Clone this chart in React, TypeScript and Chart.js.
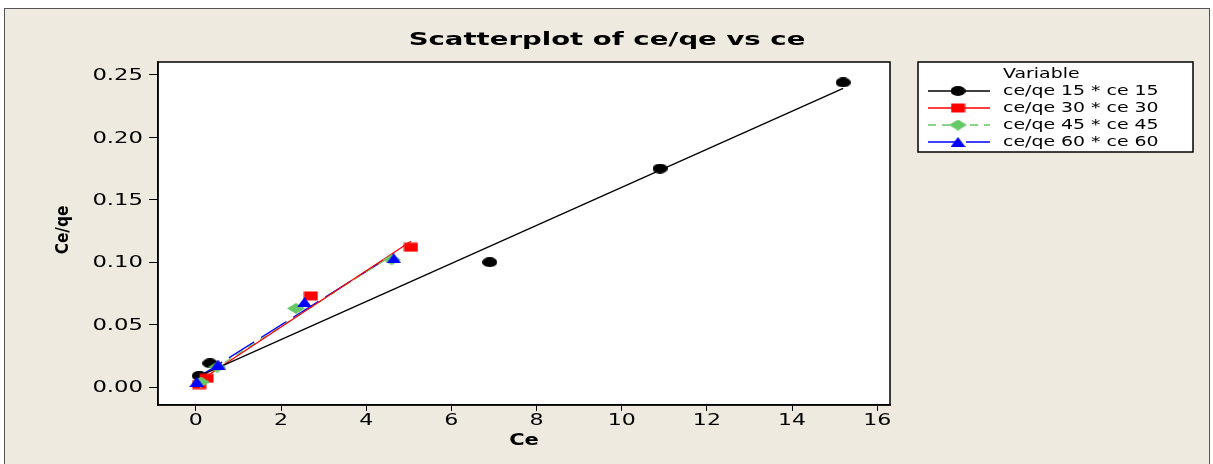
import React, { useEffect, useRef } from 'react';
import { Chart, registerables } from 'chart.js';
Chart.register(...registerables);

const seriesLabels = ['ce/qe 15 * ce 15', 'ce/qe 30 * ce 30', 'ce/qe 45 * ce 45', 'ce/qe 60 * ce 60'];
const ce15 = [0.08, 0.33, 6.9, 10.9, 15.2];
const ceqe15 = [0.009, 0.019, 0.1, 0.175, 0.244];
const ce30 = [0.08, 0.25, 2.7, 5.05];
const ceqe30 = [0.002, 0.007, 0.073, 0.112];
const ce45 = [0.12, 0.5, 2.35, 4.6];
const ceqe45 = [0.004, 0.016, 0.063, 0.102];
const ce60 = [0.02, 0.52, 2.55, 4.65];
const ceqe60 = [0.004, 0.018, 0.068, 0.103];
const xTicks = [0, 2, 4, 6, 8, 10, 12, 14, 16];
const yTicks = [0, 0.05, 0.1, 0.15, 0.2, 0.25];
const yTickLabels = ['0.00', '0.05', '0.10', '0.15', '0.20', '0.25'];

const colors = ['#000000', '#FF0000', '#66C866', '#0000FF'];
const dashes = [[], [], [8, 6], [30, 8]];
const kinds = ['ellipse', 'rect', 'diamond', 'triangle'];

function makeMarker(kind: string, color: string) {
  const c = document.createElement('canvas');
  const w = kind === 'diamond' ? 18 : 15;
  const h = kind === 'diamond' ? 11 : 10;
  c.width = w;
  c.height = h;
  const ctx = c.getContext('2d')!;
  ctx.fillStyle = color;
  ctx.beginPath();
  if (kind === 'ellipse') {
    ctx.ellipse(w / 2, h / 2, w / 2, h / 2, 0, 0, Math.PI * 2);
  } else if (kind === 'rect') {
    ctx.rect(0.5, 0.5, w - 1, h - 1);
  } else if (kind === 'diamond') {
    ctx.moveTo(w / 2, 0);
    ctx.lineTo(w, h / 2);
    ctx.lineTo(w / 2, h);
    ctx.lineTo(0, h / 2);
  } else {
    ctx.moveTo(w / 2, 0);
    ctx.lineTo(w, h);
    ctx.lineTo(0, h);
  }
  ctx.closePath();
  ctx.fill();
  return c;
}

function fitLine(xs: number[], ys: number[]) {
  const n = xs.length;
  const mx = xs.reduce((a, b) => a + b, 0) / n;
  const my = ys.reduce((a, b) => a + b, 0) / n;
  let sxx = 0, sxy = 0;
  for (let i = 0; i < n; i++) {
    sxx += (xs[i] - mx) * (xs[i] - mx);
    sxy += (xs[i] - mx) * (ys[i] - my);
  }
  const b = sxy / sxx;
  const a = my - b * mx;
  const lo = Math.min(...xs), hi = Math.max(...xs);
  return [{ x: lo, y: a + b * lo }, { x: hi, y: a + b * hi }];
}

function stretchText(ctx: CanvasRenderingContext2D, text: string, x: number, y: number, font: string, sx: number, align: string) {
  ctx.save();
  ctx.font = font;
  ctx.fillStyle = '#000';
  ctx.textBaseline = 'middle';
  ctx.textAlign = 'left';
  const w = ctx.measureText(text).width * sx;
  const left = align === 'left' ? x : align === 'center' ? x - w / 2 : x - w;
  ctx.translate(left, y);
  ctx.scale(sx, 1);
  ctx.fillText(text, 0, 0);
  ctx.restore();
}

export default function App() {
  const ref = useRef<HTMLCanvasElement>(null);
  useEffect(() => {
    const xs = [ce15, ce30, ce45, ce60];
    const ys = [ceqe15, ceqe30, ceqe45, ceqe60];
    const markers = kinds.map((k, i) => makeMarker(k, colors[i]));
    const pointSets: any[] = [];
    const lineSets: any[] = [];
    for (let i = 3; i >= 0; i--) {
      pointSets.push({
        label: seriesLabels[i],
        data: xs[i].map((x, j) => ({ x, y: ys[i][j] })),
        pointStyle: markers[i],
        showLine: false,
      });
    }
    for (let i = 0; i < 4; i++) {
      lineSets.push({
        label: seriesLabels[i] + ' fit',
        data: fitLine(xs[i], ys[i]),
        showLine: true,
        pointRadius: 0,
        borderColor: colors[i],
        borderWidth: 1.3,
        borderDash: dashes[i],
      });
    }
    const F = '"DejaVu Sans", Verdana, sans-serif';
    const deco = {
      id: 'deco',
      beforeDraw(chart: any) {
        const ctx = chart.ctx as CanvasRenderingContext2D;
        const a = chart.chartArea;
        ctx.save();
        ctx.fillStyle = '#ffffff';
        ctx.fillRect(0, 0, chart.width, chart.height);
        ctx.fillStyle = '#EEEAE0';
        ctx.fillRect(4, 8, 1206, 470);
        ctx.strokeStyle = '#555';
        ctx.lineWidth = 1;
        ctx.strokeRect(4.5, 8.5, 1205, 470);
        ctx.fillStyle = '#fff';
        ctx.fillRect(a.left, a.top, a.right - a.left, a.bottom - a.top);
        ctx.restore();
      },
      afterDraw(chart: any) {
        const ctx = chart.ctx as CanvasRenderingContext2D;
        const a = chart.chartArea;
        const xs = chart.scales.x;
        const ysc = chart.scales.y;
        ctx.save();
        ctx.strokeStyle = '#000';
        ctx.lineWidth = 1.5;
        ctx.strokeRect(a.left, a.top, a.right - a.left, a.bottom - a.top);
        ctx.restore();
        yTicks.forEach((v, i) => stretchText(ctx, yTickLabels[i], 143, ysc.getPixelForValue(v) + 1, '16px ' + F, 1.42, 'right'));
        xTicks.forEach((v) => stretchText(ctx, String(v), xs.getPixelForValue(v), 421, '16px ' + F, 1.38, 'center'));
        stretchText(ctx, 'Scatterplot of ce/qe vs ce', 607, 41, 'bold 17px ' + F, 1.62, 'center');
        stretchText(ctx, 'Ce', (a.left + a.right) / 2, 441, 'bold 15px ' + F, 1.4, 'center');
        ctx.save();
        ctx.translate(64, 230);
        ctx.rotate(-Math.PI / 2);
        stretchText(ctx, 'Ce/qe', 0, 0, 'bold 17px ' + F, 0.9, 'center');
        ctx.restore();
        // legend
        ctx.save();
        ctx.fillStyle = '#fff';
        ctx.fillRect(918, 62, 275, 90);
        ctx.strokeStyle = '#000';
        ctx.lineWidth = 1.5;
        ctx.strokeRect(918, 62, 275, 90);
        ctx.restore();
        stretchText(ctx, 'Variable', 1003, 74, '13.5px ' + F, 1.4, 'left');
        const rows = [91, 108, 125, 142];
        for (let i = 0; i < 4; i++) {
          ctx.save();
          ctx.strokeStyle = colors[i];
          ctx.lineWidth = 1.3;
          ctx.setLineDash(dashes[i]);
          ctx.beginPath();
          ctx.moveTo(928, rows[i]);
          ctx.lineTo(990, rows[i]);
          ctx.stroke();
          ctx.restore();
          const m = markers[i];
          ctx.drawImage(m, 958 - m.width / 2, rows[i] - m.height / 2);
          stretchText(ctx, seriesLabels[i], 1003, rows[i], '13.5px ' + F, 1.4, 'left');
        }
      },
    };
    const chart = new Chart(ref.current!, {
      type: 'scatter',
      data: { datasets: [...pointSets, ...lineSets] },
      options: {
        animation: false,
        responsive: false,
        events: [],
        layout: { padding: { left: 0, right: 323, top: 62, bottom: 0 } },
        plugins: { legend: { display: false }, title: { display: false }, tooltip: { enabled: false } },
        scales: {
          x: {
            type: 'linear',
            min: -0.89,
            max: 16.3,
            afterBuildTicks: (s: any) => { s.ticks = xTicks.map((v) => ({ value: v })); },
            afterFit: (s: any) => { s.height = 59; },
            ticks: { display: false },
            grid: { drawOnChartArea: false, drawTicks: true, tickLength: 6, color: '#000', lineWidth: 1 },
            border: { display: true, color: '#000', width: 1.5 },
          },
          y: {
            type: 'linear',
            min: -0.0144,
            max: 0.2604,
            afterBuildTicks: (s: any) => { s.ticks = yTicks.map((v) => ({ value: v })); },
            afterFit: (s: any) => { s.width = 158; },
            ticks: { display: false },
            grid: { drawOnChartArea: false, drawTicks: true, tickLength: 9, color: '#000', lineWidth: 1 },
            border: { display: true, color: '#000', width: 1.5 },
          },
        },
      },
      plugins: [deco],
    });
    return () => chart.destroy();
  }, []);
  return (
    <div style={{ position: 'fixed', left: 0, top: 0, width: 1213, height: 464 }}>
      <canvas ref={ref} width={1213} height={464} style={{ width: 1213, height: 464, display: 'block' }} />
    </div>
  );
}
